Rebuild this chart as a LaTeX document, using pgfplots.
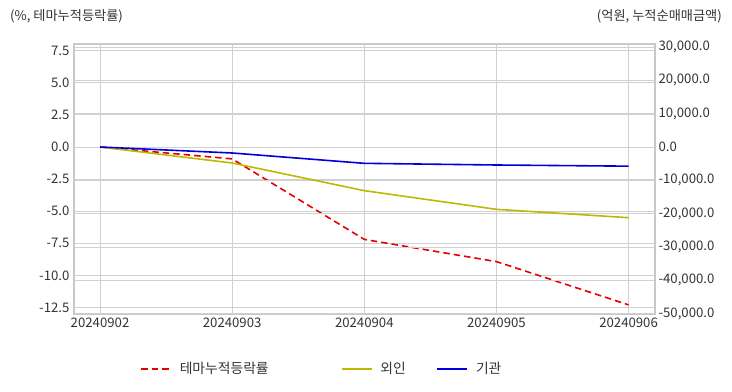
\documentclass[border=0pt]{standalone}
\usepackage{pgfplots}
\pgfplotsset{compat=1.18}
\usepackage{fontspec}
\setmainfont{Noto Sans CJK KR}
\definecolor{gridc}{RGB}{208,208,208}
\definecolor{framec}{RGB}{200,200,200}
\definecolor{txt}{RGB}{51,51,51}
\definecolor{sred}{RGB}{230,0,0}
\definecolor{solive}{RGB}{190,184,0}
\definecolor{sblue}{RGB}{0,0,220}
\begin{document}
\begin{tikzpicture}
\pgfplotsset{
  base/.style={
    scale only axis, width=581pt, height=270pt,
    xmin=-0.197, xmax=4.2,
    axis line style={draw=framec, line width=1.2pt},
    grid=major,
    grid style={draw=gridc, line width=0.8pt},
    major tick length=0pt,
    tick label style={font=\fontsize{13.2}{15}\selectfont, text=txt},
    /pgf/number format/assume math mode=true,
    clip=false,
  }
}
\begin{axis}[base, name=ax,
  ymin=-13.01, ymax=8.02,
  ytick={-12.5,-10,-7.5,-5,-2.5,0,2.5,5,7.5},
  y tick label style={/pgf/number format/fixed, /pgf/number format/fixed zerofill, /pgf/number format/precision=1},
  yticklabel shift=1pt,
  xtick={0,1,2,3,4},
  xticklabels={20240902,20240903,20240904,20240905,20240906},
  xticklabel shift=0pt,
]
\addplot[sred, dashed, dash pattern=on 6.5pt off 4pt, line width=1.6pt] coordinates {(0,0) (1,-0.93) (2,-7.2) (3,-8.93) (4,-12.3)};
\end{axis}
\begin{axis}[base,
  axis y line*=right, axis x line=none,
  ymin=-50100, ymax=30900,
  ytick={-50000,-40000,-30000,-20000,-10000,0,10000,20000,30000},
  y tick label style={/pgf/number format/fixed, /pgf/number format/fixed zerofill, /pgf/number format/precision=1, /pgf/number format/1000 sep={,}},
  scaled y ticks=false,
  yticklabel shift=0pt,
  legend columns=3,
  legend style={at={(0.1136,-0.2037)}, anchor=west, draw=none, fill=none, inner sep=0pt,
    font=\fontsize{13.8}{15}\selectfont, text=txt,
    /tikz/every odd column/.style={column sep=6pt},
    /tikz/every even column/.style={column sep=0pt}},
  legend image code/.code={\draw[#1] (0pt,0pt) -- (30pt,0pt);},
]
\addlegendimage{sred, dash pattern=on 6.5pt off 4pt, line width=1.6pt}
\addlegendentry{\makebox[159pt][l]{테마누적등락률}}
\addplot[solive, line width=1.6pt] coordinates {(0,0) (1,-4800) (2,-13100) (3,-18700) (4,-21200)};
\addlegendentry{\makebox[54pt][l]{외인}}
\addplot[sblue, line width=1.6pt] coordinates {(0,0) (1,-1800) (2,-4900) (3,-5400) (4,-5750)};
\addlegendentry{기관}
\end{axis}
\node[anchor=west, font=\fontsize{13.2}{15}\selectfont, text=txt, inner sep=0pt] at ([shift={(-64pt,28pt)}]ax.north west) {(\%, 테마누적등락률)};
\node[anchor=east, font=\fontsize{13.2}{15}\selectfont, text=txt, inner sep=0pt] at ([shift={(67pt,28pt)}]ax.north east) {(억원, 누적순매매금액)};
\pgfresetboundingbox
\path[use as bounding box] ([shift={(-74pt,-78pt)}]ax.south west) rectangle ([shift={(77pt,44pt)}]ax.north east);
\end{tikzpicture}
\end{document}
